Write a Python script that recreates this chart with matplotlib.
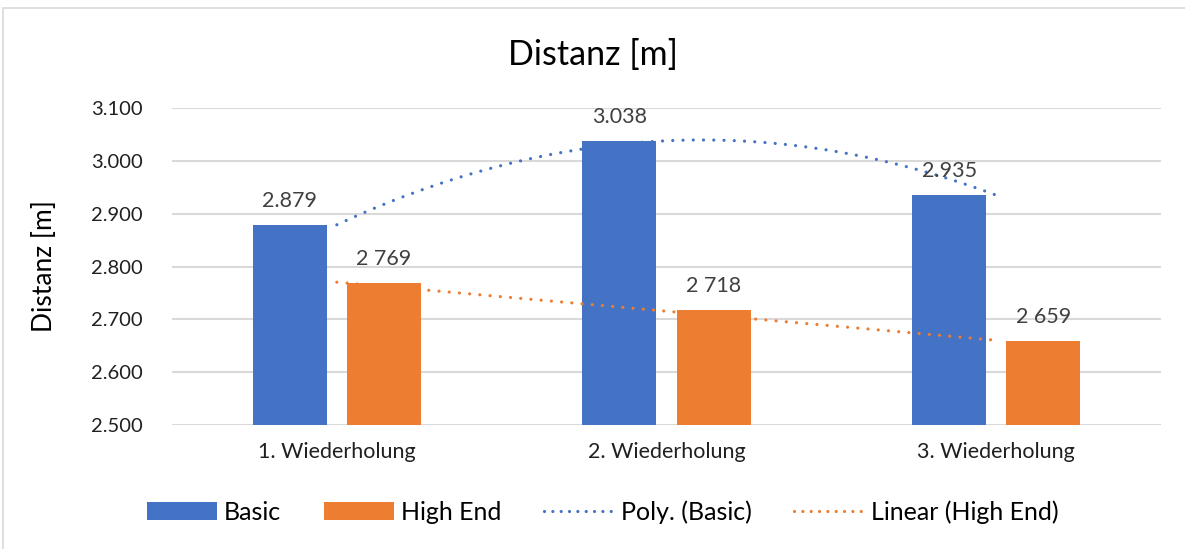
import matplotlib
matplotlib.use("Agg")
import matplotlib.pyplot as plt
import numpy as np
from matplotlib.patches import Rectangle, Patch
from matplotlib.lines import Line2D
from matplotlib.ticker import FuncFormatter

categories = ["1. Wiederholung", "2. Wiederholung", "3. Wiederholung"]
basic = [2879, 3038, 2935]
high_end = [2769, 2718, 2659]
series_names = ["Basic", "High End"]
trend_names = ["Poly. (Basic)", "Linear (High End)"]
title = "Distanz [m]"
ylabel = "Distanz [m]"
yticks = [2500, 2600, 2700, 2800, 2900, 3000, 3100]

BLUE = "#4472C4"
ORANGE = "#ED7D31"
GRID = "#D9D9D9"
TXT = "#404040"

plt.rcParams['font.family'] = ['Lato', 'DejaVu Sans']

fig = plt.figure(figsize=(11.85, 5.49), dpi=100)
fig.patches.append(Rectangle((3 / 1185, -0.1), 1.2, 1 - 8 / 549 + 0.1,
                             transform=fig.transFigure, fill=False,
                             edgecolor="#D9D9D9", lw=1.2, zorder=0))

W, H = 1185, 549
left, right = 172 / W, 1161 / W
bottom, top = 1 - 425 / H, 1 - 108 / H
ax = fig.add_axes([left, bottom, right - left, top - bottom])

x = np.arange(1, len(categories) + 1)
bw = 74 / 329.5
off = 47 / 329.5

ax.bar(x - off, basic, width=bw, color=BLUE, zorder=3)
ax.bar(x + off, high_end, width=bw, color=ORANGE, zorder=3)

# trendlines
xs = np.linspace(1, 3, 200)
p2 = np.polyfit(x, basic, 2)
p1 = np.polyfit(x, high_end, 1)
dot = (0, (0.01, 3.2))
ax.plot(xs, np.polyval(p2, xs), color=BLUE, lw=2.3, linestyle=dot,
        dash_capstyle='round', zorder=5)
ax.plot(xs, np.polyval(p1, xs), color=ORANGE, lw=2.3, linestyle=dot,
        dash_capstyle='round', zorder=5)

ax.set_ylim(2500, 3100)
ax.set_xlim(0.5, 3.5)
ax.set_yticks(yticks)
ax.yaxis.set_major_formatter(FuncFormatter(lambda v, p: f"{int(v):,}".replace(",", ".")))
ax.set_xticks(x)
ax.set_xticklabels(categories)

for s in ax.spines.values():
    s.set_visible(False)
ax.tick_params(axis='y', length=0, labelsize=14.5, labelcolor="#202020", pad=21)
ax.tick_params(axis='x', length=0, labelsize=15.5, labelcolor="#202020", pad=12)
ax.grid(axis='y', color=GRID, lw=1.5, zorder=1)
ax.set_axisbelow(True)

for xi, v in zip(x - off, basic):
    ax.annotate(f"{v:,}".replace(",", "."), (xi, v), xytext=(0, 10),
                textcoords="offset points", ha="center", va="bottom",
                fontsize=15.5, color=TXT, zorder=6)
for xi, v in zip(x + off, high_end):
    ax.annotate(f"{v:,}".replace(",", " "), (xi, v), xytext=(0, 10),
                textcoords="offset points", ha="center", va="bottom",
                fontsize=15.5, color=TXT, zorder=6)

ax.set_ylabel(ylabel, fontsize=19, color="#000000")
ax.yaxis.set_label_coords(-(172 - 57) / 989, 0.5)
fig.text(0.5, 1 - 55 / H, title, ha="center", va="center", fontsize=24.5, color="#000000")

handles = [Patch(facecolor=BLUE, edgecolor="none"),
           Patch(facecolor=ORANGE, edgecolor="none"),
           Line2D([], [], color=BLUE, lw=2.3, linestyle=(0, (0.01, 2.6)), dash_capstyle='round'),
           Line2D([], [], color=ORANGE, lw=2.3, linestyle=(0, (0.01, 2.6)), dash_capstyle='round')]
fig.legend(handles, series_names + trend_names, loc="center",
           bbox_to_anchor=(603 / W, 1 - 512 / H), ncol=4, frameon=False,
           fontsize=18, handlelength=2.8, handleheight=0.75, columnspacing=1.7,
           handletextpad=0.28)

fig.savefig("out.png", dpi=100, facecolor="white")
